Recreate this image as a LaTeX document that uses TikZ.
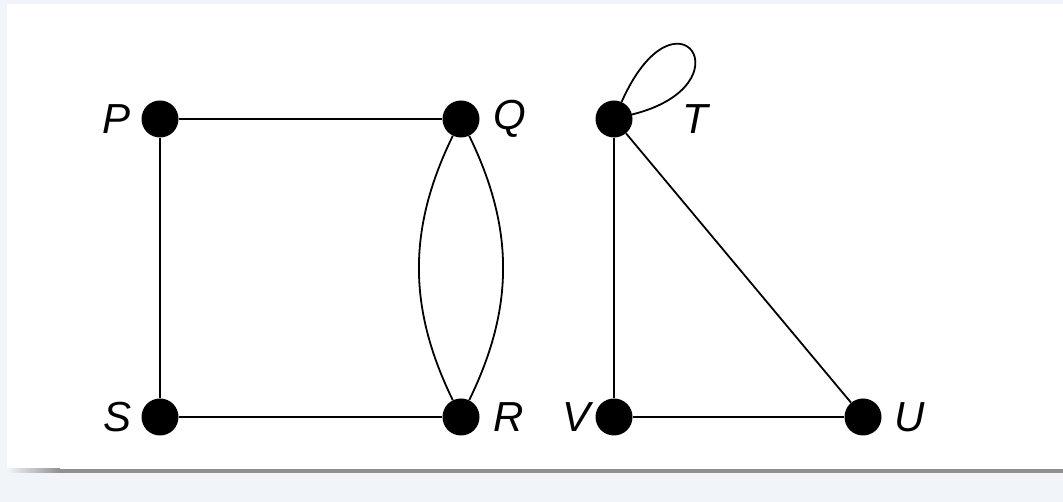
\documentclass[tikz,border=0pt]{standalone}
\usepackage{fontspec}
\setmainfont{Liberation Sans}
\usetikzlibrary{positioning}
\definecolor{fondoPagina}{HTML}{F1F5F9}
\definecolor{bordeGris}{HTML}{909090}

\begin{document}
\begin{tikzpicture}[
        x=1pt, y=1pt,
        v/.style={circle, fill=black, inner sep=0pt, minimum size=37pt},
        lbl/.style={inner sep=0pt, font=\fontsize{42}{44}\selectfont\itshape},
        e/.style={line width=1.8pt, black}
    ]
        \useasboundingbox (0,0) rectangle (1063,502);
        % marco
        \fill[fondoPagina] (0,0) rectangle (1063,502);
        \fill[white] (7,33) rectangle (1063,498);
        \shade[left color=fondoPagina, right color=bordeGris] (7,29) rectangle (60,33);
        \fill[bordeGris] (60,29) rectangle (1063,33);

        % vertices
        \node[v] (P) at (160,383) {};
        \node[v] (Q) at (461,383) {};
        \node[v] (S) at (160,85) {};
        \node[v] (R) at (461,85) {};
        \node[v] (T) at (614,383) {};
        \node[v] (V) at (614,85) {};
        \node[v] (U) at (863,85) {};

        % etiquetas
        \node[lbl, left=11pt of P] (lP) {P};
        \node[lbl, right=14pt of Q] (lQ) {Q};
        \node[lbl, left=10pt of S] (lS) {S};
        \node[lbl, right=14pt of R] (lR) {R};
        \node[lbl, right=50pt of T] (lT) {T};
        \node[lbl, left=5pt of V] (lV) {V};
        \node[lbl, right=13pt of U] (lU) {U};

        % aristas
        \draw[e] (P)--(Q); \draw[e] (P)--(S); \draw[e] (S)--(R);
        \draw[e] (Q) to[bend left=26] (R); \draw[e] (Q) to[bend right=26] (R);
        \draw[e] (T)--(V); \draw[e] (T)--(U); \draw[e] (V)--(U);
        \draw[e] (T) to[out=66, in=14, out distance=135pt, in distance=122pt] (T);
    \end{tikzpicture}
\end{document}
